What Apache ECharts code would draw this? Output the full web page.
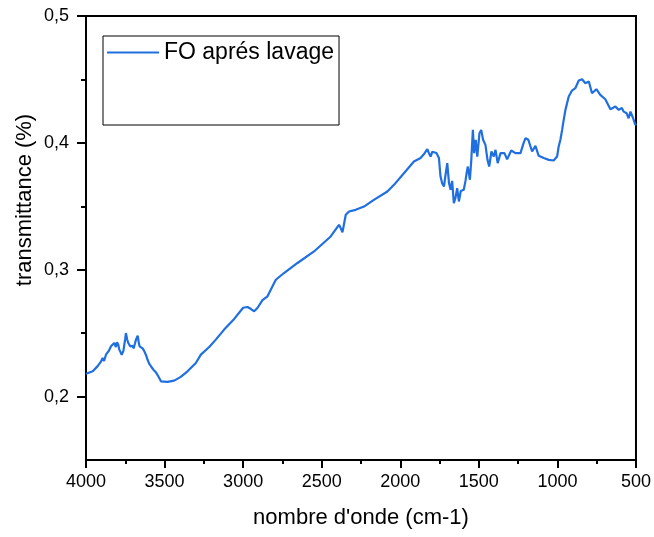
<!DOCTYPE html>
<html>
<head>
<meta charset="utf-8">
<script src="https://cdn.jsdelivr.net/npm/echarts@6/dist/echarts.min.js"></script>
<style>html,body{margin:0;padding:0;background:#fff}#c{width:654px;height:537px}</style>
</head>
<body>
<div id="c"></div>
<script>
const seriesName = "FO aprés lavage";
const xTitle = "nombre d'onde (cm-1)";
const yTitle = "transmittance (%)";
const yMajorTicks = [0.2, 0.3, 0.4, 0.5];
const yMinorTicks = [0.25, 0.35, 0.45];
const wavenumber = [4000,3989,3957,3926,3905,3894,3885,3873,3855,3841,3830,3820,3810,3803,3795,3788,3780,3773,3762,3750,3746,3738,3730,3718,3705,3697,3688,3682,3671,3665,3659,3650,3640,3630,3619,3608,3598,3587,3570,3555,3540,3523,3481,3439,3397,3354,3301,3269,3216,3174,3121,3057,3000,2972,2950,2930,2909,2898,2877,2845,2813,2792,2740,2654,2549,2443,2390,2380,2368,2355,2347,2336,2326,2284,2231,2168,2082,2040,1977,1913,1871,1850,1828,1818,1807,1796,1786,1770,1754,1744,1733,1722,1712,1701,1690,1680,1670,1659,1648,1638,1627,1615,1596,1585,1578,1570,1557,1548,1538,1530,1520,1510,1496,1485,1473,1458,1445,1434,1420,1405,1394,1380,1362,1337,1320,1294,1267,1235,1215,1203,1185,1161,1140,1119,1087,1055,1024,1002,992,981,970,960,949,928,907,886,864,843,822,800,780,752,727,695,663,631,610,590,578,560,547,535,520,504,500];
const transmittance = [0.218,0.2181,0.220,0.224,0.2275,0.2305,0.228,0.233,0.236,0.2396,0.241,0.2423,0.239,0.2428,0.241,0.237,0.235,0.233,0.236,0.246,0.2501,0.245,0.242,0.2396,0.240,0.238,0.242,0.2449,0.248,0.243,0.2396,0.241,0.238,0.236,0.233,0.229,0.226,0.2239,0.221,0.2191,0.216,0.212,0.2116,0.2126,0.2155,0.2199,0.2265,0.2331,0.2391,0.2449,0.2528,0.2612,0.2700,0.2706,0.2690,0.2672,0.2698,0.2711,0.2760,0.279,0.2869,0.2921,0.2974,0.3053,0.3144,0.3262,0.3354,0.333,0.3294,0.338,0.3433,0.342,0.3459,0.3472,0.3498,0.3551,0.3617,0.3669,0.3761,0.3853,0.388,0.391,0.395,0.392,0.3892,0.393,0.394,0.392,0.388,0.3735,0.368,0.3656,0.3748,0.384,0.3683,0.363,0.370,0.3525,0.357,0.3643,0.3538,0.362,0.363,0.370,0.3761,0.3813,0.3709,0.3866,0.4102,0.3919,0.4024,0.3892,0.4076,0.4102,0.4024,0.3984,0.3866,0.3813,0.3932,0.3892,0.3945,0.384,0.3919,0.3919,0.387,0.394,0.3919,0.3919,0.400,0.4037,0.4024,0.3932,0.3976,0.3898,0.388,0.3866,0.3861,0.3892,0.3971,0.4024,0.4102,0.4181,0.426,0.4365,0.4412,0.4431,0.4491,0.4501,0.447,0.4483,0.4391,0.4423,0.4378,0.4344,0.4265,0.4286,0.426,0.4275,0.4246,0.4234,0.4194,0.4246,0.420,0.4142,0.415];

const data = wavenumber.map((w, i) => [w, transmittance[i]]);
const fmt = v => String(+v.toFixed(2)).replace('.', ',');
const FONT = 'Liberation Sans, Arial, sans-serif';
const chart = echarts.init(document.getElementById('c'), null, {renderer: 'canvas'});
chart.setOption({
  animation: false,
  backgroundColor: '#fff',
  grid: {left: 86, right: 18, top: 16, bottom: 77, show: true, borderColor: '#000', borderWidth: 2, backgroundColor: 'transparent'},
  legend: {
    left: 103, top: 36, orient: 'vertical',
    borderColor: '#000', borderWidth: 1, padding: [5, 5, 61, 4],
    itemWidth: 52, itemHeight: 2, itemGap: 6,
    icon: 'rect',
    textStyle: {fontFamily: FONT, fontSize: 23, color: '#000'},
    data: [{name: seriesName, icon: 'rect'}]
  },
  xAxis: {
    type: 'value', min: 500, max: 4000, interval: 500, inverse: true,
    name: xTitle, nameLocation: 'middle', nameGap: 47,
    nameTextStyle: {fontFamily: FONT, fontSize: 22, color: '#000'},
    axisLine: {show: true, lineStyle: {color: '#000', width: 2}},
    axisTick: {show: true, inside: false, length: 8, lineStyle: {color: '#000', width: 2}},
    minorTick: {show: true, splitNumber: 2, length: 4, lineStyle: {color: '#000', width: 2}},
    axisLabel: {fontFamily: FONT, fontSize: 18, color: '#000', margin: 13, formatter: v => String(v)},
    splitLine: {show: false}, minorSplitLine: {show: false}
  },
  yAxis: [{
    type: 'value', min: 0.15, max: 0.5,
    name: yTitle, nameLocation: 'middle', nameGap: 50, nameMoveOverlap: false,
    nameTextStyle: {fontFamily: FONT, fontSize: 22, color: '#000', padding: [0, 0, 0, 76]},
    axisLine: {show: true, lineStyle: {color: '#000', width: 2}},
    axisTick: {show: true, inside: false, length: 9, customValues: yMajorTicks, lineStyle: {color: '#000', width: 2}},
    axisLabel: {fontFamily: FONT, fontSize: 18, color: '#000', margin: 17, customValues: yMajorTicks, formatter: fmt},
    splitLine: {show: false}
  }, {
    type: 'value', min: 0.15, max: 0.5, position: 'left',
    axisLine: {show: false},
    axisTick: {show: true, inside: false, length: 5, customValues: yMinorTicks, lineStyle: {color: '#000', width: 2}},
    axisLabel: {show: false},
    splitLine: {show: false}
  }],
  series: [{
    name: seriesName, type: 'line', data: data, showSymbol: false, symbol: 'none',
    lineStyle: {color: '#1f6fe0', width: 2.2}, itemStyle: {color: '#1f6fe0'}
  }]
});
</script>
</body>
</html>
